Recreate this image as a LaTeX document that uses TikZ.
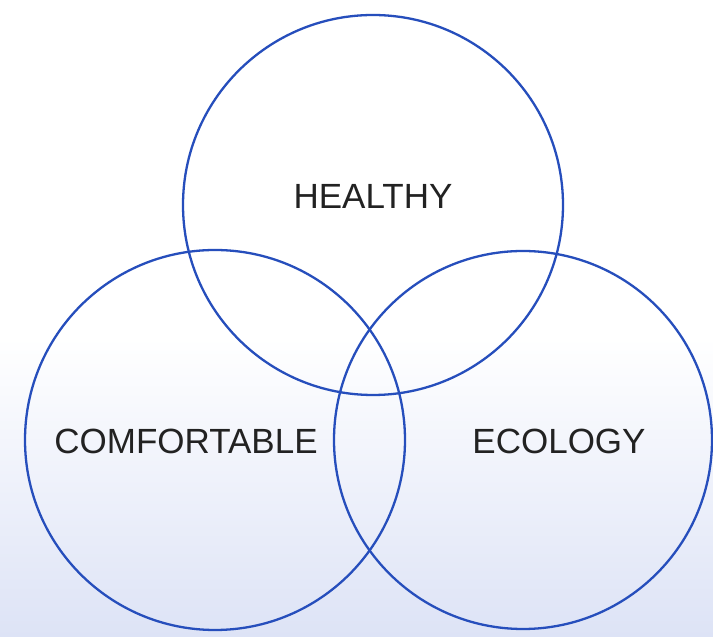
\documentclass[tikz,border=0pt]{standalone}
\usepackage{fontspec}
\setmainfont{Liberation Sans}
\definecolor{ringblue}{RGB}{38,78,188}
\definecolor{textgray}{RGB}{34,34,34}
\definecolor{bgbottom}{RGB}{221,227,246}
\tikzset{
  ring/.style={circle, draw=ringblue, line width=2.3pt, inner sep=0pt},
  lbl/.style={text=textgray, font=\fontsize{35}{40}\selectfont, inner sep=0pt, anchor=center}
}
\begin{document}
\begin{tikzpicture}[x=1pt,y=1pt]
\useasboundingbox (0,0) rectangle (713,637);
\fill[white] (0,300) rectangle (713,637);
\shade[top color=white, bottom color=bgbottom] (0,0) rectangle (713,300);
\node[ring, minimum size=380pt] (top) at (373,432) {};
\node[ring, minimum size=380pt] (left) at (215,197) {};
\node[ring, minimum size=378pt] (right) at (523,197) {};
\node[lbl] (healthy) at (373,441) {HEALTHY};
\node[lbl] (comf) at (186,196) {COMFORTABLE};
\node[lbl] (eco) at (559,196) {ECOLOGY};
\end{tikzpicture}
\end{document}
